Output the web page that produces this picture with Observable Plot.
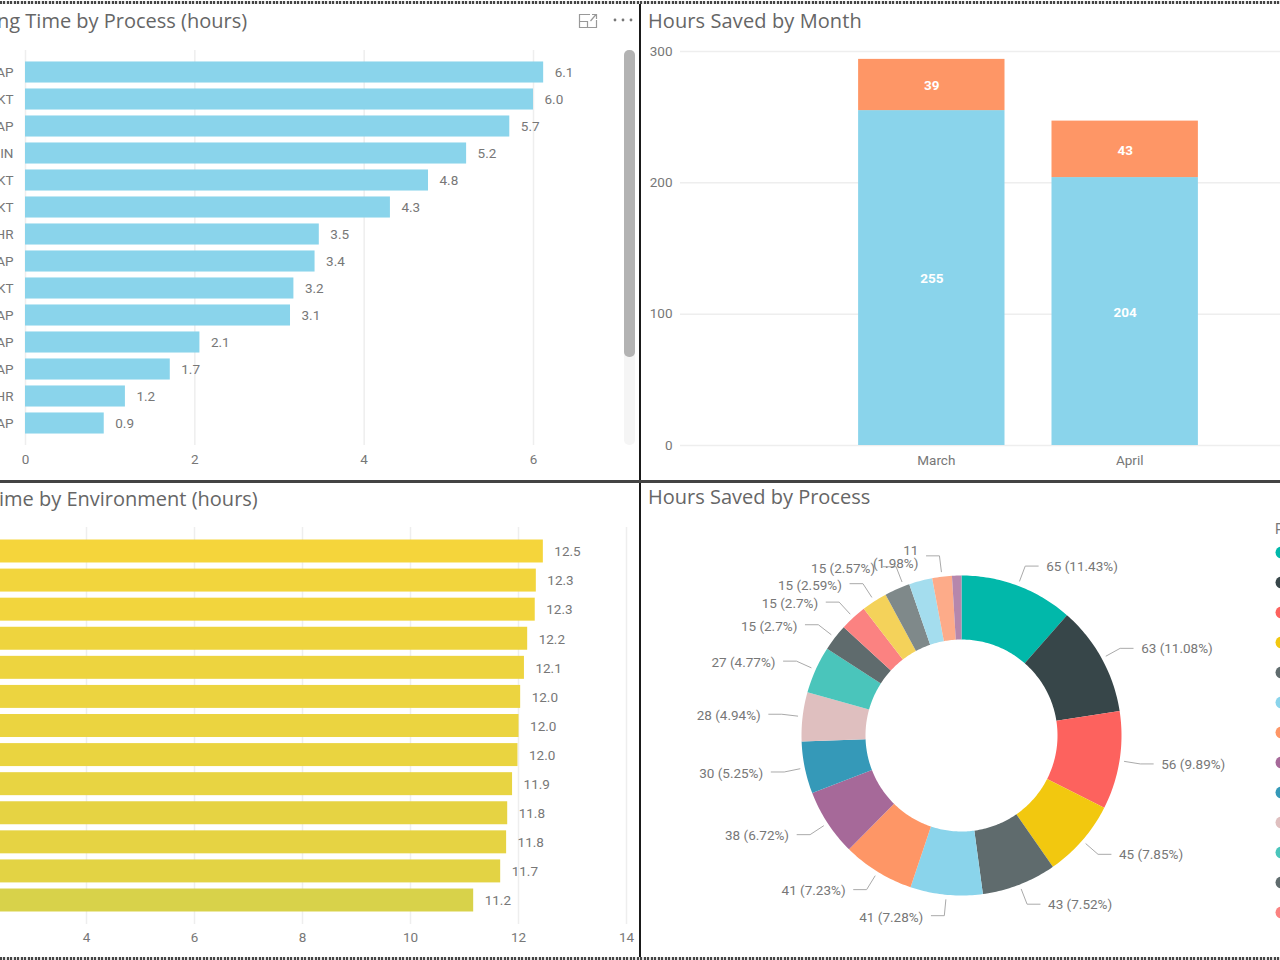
<!DOCTYPE html>
<html><head><meta charset="utf-8">
<script src="https://cdn.jsdelivr.net/npm/d3@7"></script>
<script src="https://cdn.jsdelivr.net/npm/@observablehq/plot@0.6"></script>
<style>
html,body{margin:0;padding:0;background:#fff;overflow:hidden}
#page{position:relative;width:1280px;height:960px;overflow:hidden;background:#fff}
.panel{position:absolute;left:0;top:0}
.panel svg{display:block;max-width:none !important;background:transparent}
.title{position:absolute;font:20px "Open Sans",sans-serif;color:#666;white-space:nowrap;line-height:26px}
.rule{position:absolute;background:#1a1a1a}
.dots{position:absolute;left:0;width:1280px;height:3px;background:repeating-linear-gradient(90deg,#444 0 2px,#ddd 2px 3.5px)}
</style></head><body><div id="page"></div>
<script>
const font = 'Roboto,sans-serif';
const ink = "#777";
const labelSize = 13.5;

// Top-left: time by process
const processLabels = ["AP","KT","AP","IN","KT","KT","HR","AP","KT","AP","AP","AP","HR","AP"];
const processHours = [6.12,6.0,5.72,5.21,4.76,4.31,3.47,3.42,3.17,3.13,2.06,1.71,1.18,0.93];
const processTicks = [0,2,4,6];

// Bottom-left: time by environment
const envHours = [12.46,12.33,12.31,12.17,12.11,12.04,12.01,11.99,11.89,11.8,11.78,11.67,11.17];
const envTicks = [4,6,8,10,12,14];

// Top-right: hours saved by month
const months = ["March","April"];
const savedBase = [255,204];
const savedExtra = [39,43];
const monthTicks = [0,100,200,300];

// Bottom-right: hours saved by process
const sliceShares = [11.43,11.08,9.89,7.85,7.52,7.28,7.23,6.72,5.25,4.94,4.77,2.7,2.7,2.59,2.57,2.35,1.98,0.95];
const sliceLabels = ["65 (11.43%)","63 (11.08%)","56 (9.89%)","45 (7.85%)","43 (7.52%)","41 (7.28%)","41 (7.23%)","38 (6.72%)","30 (5.25%)","28 (4.94%)","27 (4.77%)","15 (2.7%)","15 (2.7%)","15 (2.59%)","15 (2.57%)",null,"11\n(1.98%)",null];
const palette = ["#01B8AA","#374649","#FD625E","#F2C80F","#5F6B6D","#8AD4EB","#FE9666","#A66999","#3599B8","#DFBFBF","#4AC5BB","#5F6B6D","#FB8281","#F4D25A","#7F898A","#A4DDEE","#FDAB89","#B687AC"];
const legendCount = 13;

const page = document.getElementById("page");
function place(svg,left,top,w,h){
  const d=document.createElement("div");d.className="panel";d.style.cssText=`left:${left}px;top:${top}px;width:${w}px;height:${h}px`;d.appendChild(svg);page.appendChild(d);
}
function html(cls,style,text){
  const d=document.createElement("div");d.className=cls;d.style.cssText=style;if(text)d.textContent=text;page.appendChild(d);return d;
}
const base={style:{fontFamily:font,fontSize:"14px",background:"transparent",overflow:"hidden"}};

// ---- top-left
place(Plot.plot({...base,width:638,height:480,marginTop:50,marginBottom:35,marginLeft:25,marginRight:0,
  x:{domain:[0,6],range:[25,533]},
  y:{domain:d3.range(processHours.length),range:[50,445],paddingInner:.22,paddingOuter:.425,round:false},
  marks:[
    Plot.ruleX(processTicks,{stroke:"#eee",strokeWidth:1.5}),
    Plot.axisX({ticks:processTicks,tickSize:0,tickPadding:9,tickFormat:d=>d,color:ink,fontSize:labelSize,anchor:"bottom",label:null}),
    Plot.axisY({tickSize:0,tickPadding:12,tickFormat:i=>processLabels[i],color:ink,fontSize:labelSize,label:null}),
    Plot.barX(processHours,{x:d=>d,y:(d,i)=>i,fill:"#8AD4EB"}),
    Plot.text(processHours,{x:d=>d,y:(d,i)=>i,text:d=>d.toFixed(1),dx:11,dy:.5,textAnchor:"start",fill:ink,fontSize:labelSize})
  ]}),0,0,638,480);

// ---- bottom-left
place(Plot.plot({...base,width:638,height:480,marginTop:47,marginBottom:36,marginLeft:0,marginRight:0,
  x:{domain:[0,14],range:[-130,626]},
  y:{domain:d3.range(envHours.length),range:[47,444],paddingInner:.21,paddingOuter:.43,round:false,axis:null},
  color:{type:"linear",domain:[11.17,12.46],range:["#D8D24A","#F5D53B"]},
  marks:[
    Plot.ruleX(envTicks,{stroke:"#eee",strokeWidth:1.5}),
    Plot.axisX({ticks:envTicks,tickSize:0,tickPadding:8,tickFormat:d=>d,color:ink,fontSize:labelSize,anchor:"bottom",label:null}),
    Plot.barX(envHours,{x:d=>d,y:(d,i)=>i,fill:d=>d}),
    Plot.text(envHours,{x:d=>d,y:(d,i)=>i,text:d=>d.toFixed(1),dx:11,dy:.5,textAnchor:"start",fill:ink,fontSize:labelSize})
  ]}),0,480,638,480);

// ---- top-right
const savedRows = months.flatMap((m,i)=>[{month:m,series:"base",hours:savedBase[i]},{month:m,series:"extra",hours:savedExtra[i]}]);
place(Plot.plot({...base,width:640,height:480,marginTop:51,marginBottom:35,marginLeft:40,marginRight:0,
  x:{domain:months,range:[40,736],paddingInner:.243,paddingOuter:.921,round:false},
  y:{domain:[0,300],range:[445,51]},
  color:{domain:["base","extra"],range:["#8AD4EB","#FE9666"]},
  marks:[
    Plot.ruleY(monthTicks,{stroke:"#eee",strokeWidth:1.5}),
    Plot.axisY({ticks:monthTicks,tickSize:0,tickPadding:8,tickFormat:d=>d,color:ink,fontSize:labelSize,label:null}),
    Plot.axisX({tickSize:0,tickPadding:10,dx:4.5,color:ink,fontSize:labelSize,label:null}),
    Plot.barY(savedRows,{x:"month",y:"hours",fill:"series"}),
    Plot.text(savedRows,Plot.stackY({x:"month",y:"hours",text:"hours",dy:1,fill:"#fff",fontWeight:"bold",fontSize:labelSize}))
  ]}),640,0,640,480);

// ---- bottom-right: donut drawn with a polar projection ([angle in degrees, radius in px])
const cx=321, cy=255, outerR=160, innerR=96, elbowR=181, startR=165, run=13, gap=21;
const polar=d3.geoTransform({point(a,r){const t=a*Math.PI/180;this.stream.point(cx+r*Math.sin(t),cy-r*Math.cos(t));}});
const total=d3.sum(sliceShares);
const edges=[0,...d3.cumsum(sliceShares)].map(v=>v/total*360);
const slices=sliceShares.map((s,i)=>{
  const a0=edges[i],a1=edges[i+1],steps=Math.max(2,Math.ceil(a1-a0));
  const angles=d3.range(steps+1).map(k=>a0+(a1-a0)*k/steps);
  const ring=[...angles.map(a=>[a,outerR]),...angles.slice().reverse().map(a=>[a,innerR]),[a0,outerR]];
  // the crowded "15 (2.57%)" label is pushed a little clockwise by its neighbours
  return {type:"Feature",properties:{i,mid:(a0+a1)/2+(i===14?2.5:0),label:sliceLabels[i]},geometry:{type:"Polygon",coordinates:[ring]}};
});
const labelled=slices.filter(d=>d.properties.label);
const sideOf=m=>m<180?1:-1;
function leader(f){
  const m=f.properties.mid,t=m*Math.PI/180,x=elbowR*Math.sin(t)+sideOf(m)*run,y=elbowR*Math.cos(t);
  const end=[(Math.atan2(x,y)*180/Math.PI+360)%360,Math.hypot(x,y)];
  return {type:"LineString",coordinates:[[m,startR],[m,elbowR],end]};
}
const labelMark=(side,anchor,dy)=>Plot.text(labelled.filter(f=>sideOf(f.properties.mid)===side),{
  x:f=>f.properties.mid,y:()=>elbowR,text:f=>f.properties.label,dx:side*gap,dy,textAnchor:anchor,fill:ink,fontSize:labelSize});
place(Plot.plot({...base,width:640,height:480,margin:0,projection:polar,
  color:{type:"ordinal",domain:d3.range(palette.length),range:palette},
  marks:[
    Plot.geo(slices,{fill:f=>f.properties.i}),
    Plot.geo(labelled.map(leader),{stroke:"#aaa",strokeWidth:1,fill:"none"}),
    labelMark(1,"start",.5),labelMark(-1,"end",1.5)
  ]}),640,480,640,480);

// ---- legend (names run off the right edge of the page)
place(Plot.plot({...base,width:40,height:480,marginTop:0,marginBottom:0,marginLeft:21,marginRight:0,
  x:{axis:null},
  y:{domain:d3.range(legendCount),type:"point",range:[72,432],padding:0,axis:null},
  color:{type:"ordinal",domain:d3.range(legendCount),range:palette.slice(0,legendCount)},
  marks:[Plot.dot(d3.range(legendCount),{y:d=>d,frameAnchor:"left",r:6,fill:d=>d,stroke:null})]
}),1260,480,40,480);
html("title",'left:1275px;top:520px;font:14px '+font+';color:#777;line-height:18px',"Process");

// ---- titles
html("title","left:-3px;top:8px","ng Time by Process (hours)");
html("title","left:648px;top:8px;letter-spacing:.1px","Hours Saved by Month");
html("title","left:-1px;top:486px","ime by Environment (hours)");
html("title","left:648px;top:484px","Hours Saved by Process");

// ---- scrollbar & chrome
html("","position:absolute;left:624px;top:50px;width:11px;height:395px;background:#f5f5f5;border-radius:5px");
html("","position:absolute;left:624px;top:50px;width:11px;height:307px;background:#b3b3b3;border-radius:5px");
html("","position:absolute;left:574px;top:10px;width:64px;height:22px").innerHTML=
  '<svg width="64" height="22" fill="none" stroke="#999" stroke-width="1.2"><path d="M16 4.5H5.5V17.5H22.5V10M5.5 11.5H13.5V17.5M16.5 11L22 4.5M18 4.5H22.5V9"/><g fill="#777" stroke="none"><circle cx="41" cy="10" r="1.4"/><circle cx="49" cy="10" r="1.4"/><circle cx="57" cy="10" r="1.4"/></g></svg>';
html("rule","left:638.5px;top:3px;width:2px;height:957px");
html("rule","left:0;top:480px;width:1280px;height:2.5px;background:#444");
html("dots","top:1px");
html("dots","top:957px");
</script></body></html>
